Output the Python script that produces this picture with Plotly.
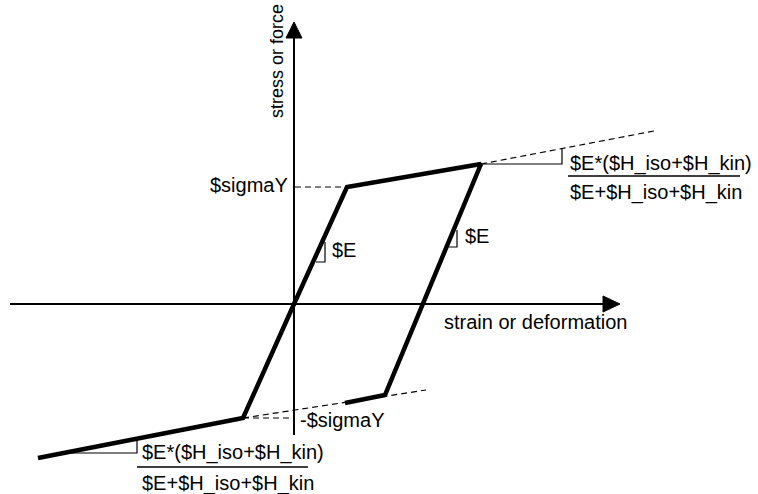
import plotly.graph_objects as go

# Hysteresis path (strain, stress) in drawing units, origin at axis crossing
path_strain = [-256, -51, 0, 53, 187, 91, 51]
path_stress = [-154, -114, 0, 117, 140, -91, -99]

# Dashed guide lines: (x0, y0, x1, y1)
guide_upper_ext = [187, 140, 360, 173]
guide_sigmaY = [1, 117, 53, 117]
guide_lower_ext = [-51, -114, 132, -86]
guide_neg_sigmaY = [-51, -114, 0, -114]

# Slope triangles (polylines)
tri_E_left_x = [22, 31, 31]
tri_E_left_y = [42, 42, 62]
tri_E_right_x = [155, 163, 163]
tri_E_right_y = [57, 57, 74]
tri_H_upper_x = [187, 268, 268]
tri_H_upper_y = [140, 140, 155]
tri_H_lower_x = [-230, -157, -157]
tri_H_lower_y = [-149, -149, -136]

# Axes
x_axis = [-284, 309]
y_axis = [-131, 266]
x_arrow_x = [309, 326, 309, 309]
x_arrow_y = [8, 0, -8, 8]
y_arrow_x = [-8, 0, 8, -8]
y_arrow_y = [266, 282, 266, 266]

# Fraction bars
frac_upper = [274, 446, 128]
frac_lower = [-157, 14, -163]

FONT = dict(family="Liberation Sans, Arial, sans-serif", size=20, color="black")

fig = go.Figure()

def line(xs, ys, width=1, dash=None):
    fig.add_trace(go.Scatter(x=xs, y=ys, mode="lines",
                             line=dict(color="black", width=width, dash=dash),
                             hoverinfo="skip", showlegend=False))

# axes
line(x_axis, [0, 0], width=2)
line([0, 0], y_axis, width=2)
for ax_x, ax_y in [(x_arrow_x, x_arrow_y), (y_arrow_x, y_arrow_y)]:
    fig.add_trace(go.Scatter(x=ax_x, y=ax_y, mode="lines", fill="toself",
                             fillcolor="black", line=dict(color="black", width=1),
                             hoverinfo="skip", showlegend=False))

# dashed guides
for g in [guide_upper_ext, guide_sigmaY, guide_lower_ext, guide_neg_sigmaY]:
    line([g[0], g[2]], [g[1], g[3]], width=1.2, dash="6px,4px")

# triangles
for tx, ty in [(tri_E_left_x, tri_E_left_y), (tri_E_right_x, tri_E_right_y),
               (tri_H_upper_x, tri_H_upper_y), (tri_H_lower_x, tri_H_lower_y)]:
    line(tx, ty, width=1.2)

# fraction bars
for f in [frac_upper, frac_lower]:
    line([f[0], f[1]], [f[2], f[2]], width=1.5)

# hysteresis path
line(path_strain, path_stress, width=4.5)

ann = []
def text(x, y, s, xanchor="left", angle=0, size=20):
    ann.append(dict(x=x, y=y, text=s, showarrow=False, xanchor=xanchor,
                    yanchor="middle", textangle=angle,
                    font=dict(FONT, size=size)))

text(-17, 243, "stress or force", xanchor="center", angle=-90, size=18)
text(148, -18, "strain or deformation")
text(-4, 119, "$sigmaY", xanchor="right")
text(4, -116, "-$sigmaY")
text(36, 54, "$E")
text(169, 68, "$E")
text(274, 141, "$E*($H_iso+$H_kin)")
text(274, 112, "$E+$H_iso+$H_kin")
text(-154, -148, "$E*($H_iso+$H_kin)")
text(-154, -179, "$E+$H_iso+$H_kin")

fig.update_layout(
    width=758, height=494,
    margin=dict(l=0, r=0, t=0, b=0),
    paper_bgcolor="white", plot_bgcolor="white",
    xaxis=dict(range=[-294, 464], visible=False, fixedrange=True),
    yaxis=dict(range=[-190, 304], visible=False, fixedrange=True),
    annotations=ann,
    showlegend=False,
)

fig.write_html("out.html", config={"displayModeBar": False},
               post_script="document.body.style.margin='0';document.body.style.overflow='hidden';")
